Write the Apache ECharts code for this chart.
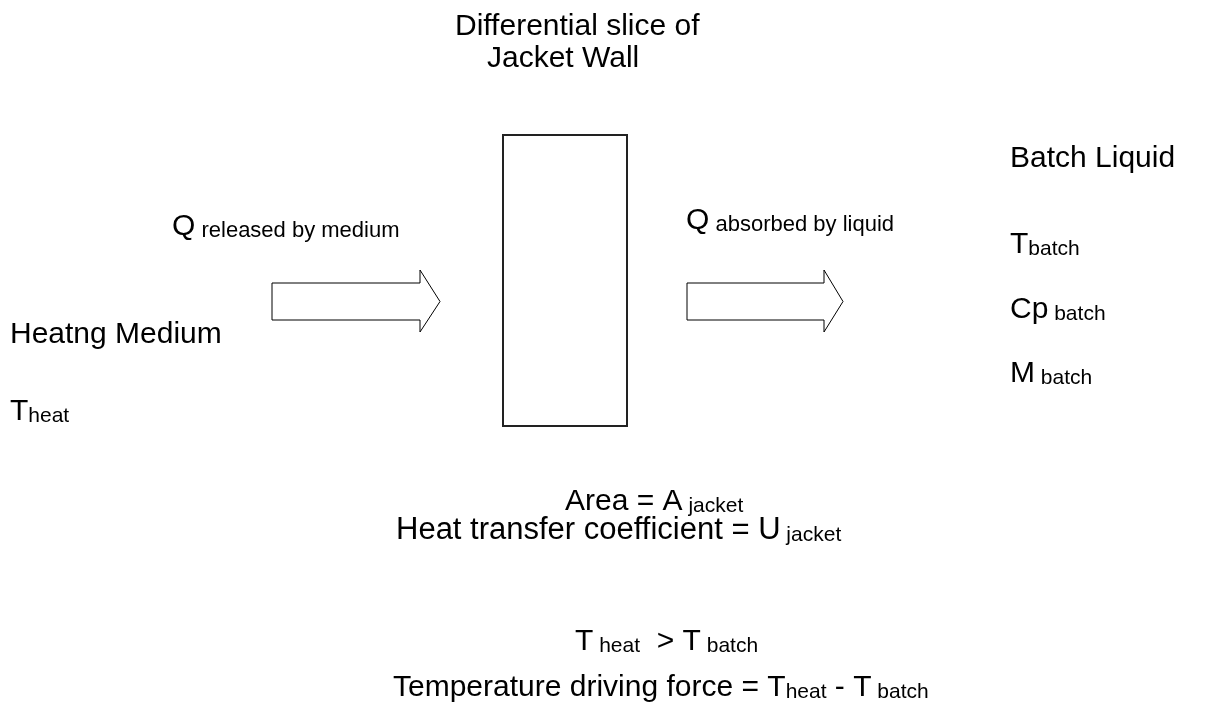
<!DOCTYPE html>
<html>
<head>
<meta charset="utf-8">
<script src="https://cdn.jsdelivr.net/npm/echarts@6/dist/echarts.min.js"></script>
<style>
html, body { margin: 0; padding: 0; background: #fff; }
#main { width: 1226px; height: 715px; }
</style>
</head>
<body>
<div id="main"></div>
<script>
// text pieces: [text, kind]; "b" normal text, "w" wide normal text,
// "s" subscript, "q" subscript of the heat flows
const labelParts = [
    [["Differential slice of", "b"]],
    [["Jacket Wall", "b"]],
    [["Q", "b"], [" released by medium", "q"]],
    [["Q", "b"], [" absorbed by liquid", "q"]],
    [["Batch Liquid", "b"]],
    [["T", "b"], ["batch", "s"]],
    [["Cp", "b"], [" batch", "s"]],
    [["M", "b"], [" batch", "s"]],
    [["Heatng Medium", "b"]],
    [["T", "b"], ["heat", "s"]],
    [["Area = A", "b"], [" jacket", "s"]],
    [["Heat transfer coefficient = U", "w"], [" jacket", "s"]],
    [["T", "b"], [" heat", "s"], ["  > T", "b"], [" batch", "s"]],
    [["Temperature driving force = T", "b"], ["heat", "s"], [" - T", "b"], [" batch", "s"]]
];
// left edge / vertical middle of each label, in diagram units (1 unit = 1 px)
const labelPos = [
    [455, 25], [487, 57],
    [172, 225], [686, 219],
    [1010, 157], [1010, 243], [1010, 308], [1010, 372],
    [10, 333], [10, 410],
    [565, 500], [396, 528],
    [575, 640], [393, 686]
];
// wall slice: x0, y0, x1, y1
const wallBox = [[503, 135, 627, 426]];
// heat arrows: body start, head start, tip
const arrowSpans = [[272, 420, 440], [687, 824, 843]];
// body top, body bottom, head top, head bottom
const arrowRows = [283, 320, 270, 332];

const fontName = "'Liberation Sans', Arial, sans-serif";

let chart = echarts.init(document.getElementById("main"));

let labelData = labelPos.map((p, i) => ({
    value: p,
    label: {
        formatter: labelParts[i].map(t => "{" + t[1] + "|" + t[0] + "}").join("")
    }
}));

let option = {
    animation: false,
    backgroundColor: "#fff",
    grid: { left: 0, right: 0, top: 0, bottom: 0 },
    xAxis: { type: "value", min: 0, max: 1226, show: false },
    yAxis: { type: "value", min: 0, max: 715, inverse: true, show: false },
    series: [
        {
            type: "custom",
            data: wallBox,
            renderItem: function (params, api) {
                let a = api.coord([api.value(0), api.value(1)]);
                let b = api.coord([api.value(2), api.value(3)]);
                return {
                    type: "rect",
                    shape: { x: a[0], y: a[1], width: b[0] - a[0], height: b[1] - a[1] },
                    style: { fill: "#fff", stroke: "#222", lineWidth: 2 }
                };
            }
        },
        {
            type: "custom",
            data: arrowSpans,
            renderItem: function (params, api) {
                let x0 = api.value(0), x1 = api.value(1), x2 = api.value(2);
                let mid = (arrowRows[0] + arrowRows[1]) / 2;
                let pts = [
                    [x0, arrowRows[0]], [x1, arrowRows[0]], [x1, arrowRows[2]],
                    [x2, mid], [x1, arrowRows[3]], [x1, arrowRows[1]], [x0, arrowRows[1]]
                ].map(p => api.coord(p));
                return {
                    type: "polygon",
                    shape: { points: pts },
                    style: { fill: "#fff", stroke: "#000", lineWidth: 1 }
                };
            }
        },
        {
            type: "scatter",
            symbolSize: 0,
            itemStyle: { opacity: 1 },
            data: labelData,
            label: {
                show: true,
                position: "right",
                distance: 0,
                color: "#000",
                opacity: 1,
                rich: {
                    b: { fontFamily: fontName, fontSize: 30, color: "#000", lineHeight: 34, verticalAlign: "bottom" },
                    w: { fontFamily: fontName, fontSize: 31, color: "#000", lineHeight: 35, verticalAlign: "bottom" },
                    s: { fontFamily: fontName, fontSize: 21, color: "#000", lineHeight: 26, verticalAlign: "bottom" },
                    q: { fontFamily: fontName, fontSize: 22, color: "#000", lineHeight: 27, verticalAlign: "bottom" }
                }
            }
        }
    ]
};

chart.setOption(option);
</script>
</body>
</html>
